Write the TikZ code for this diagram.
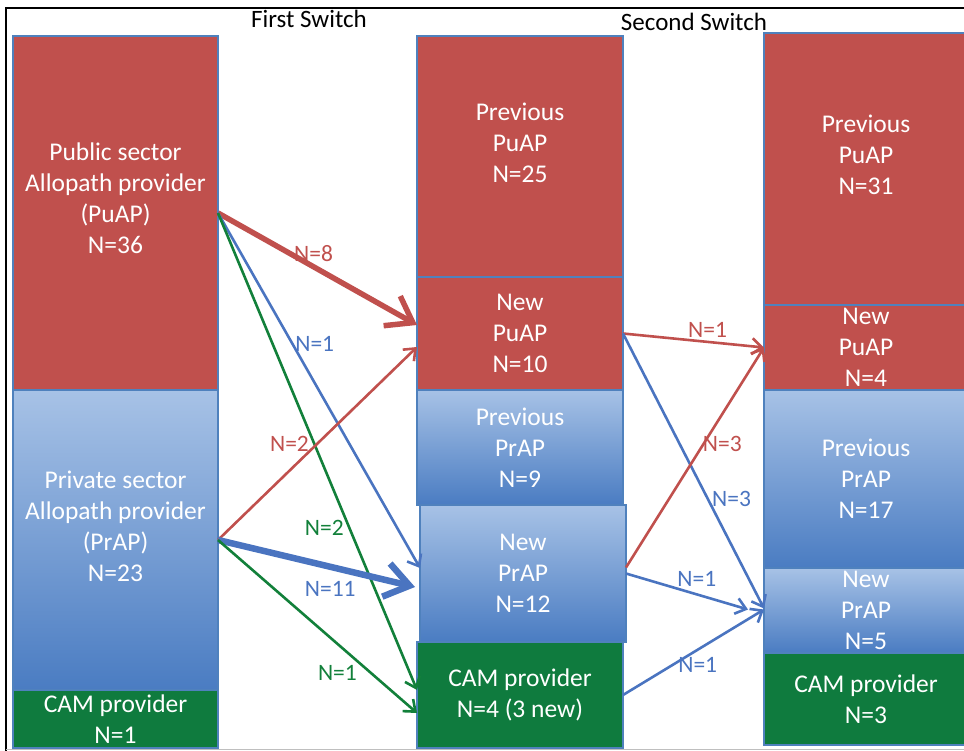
\documentclass[tikz,border=0pt]{standalone}
\usepackage{fontspec}
\setmainfont{Carlito}
\usetikzlibrary{positioning,calc,arrows.meta}

\definecolor{pured}{HTML}{C0504D}
\definecolor{prtop}{HTML}{A7C2E6}
\definecolor{prbot}{HTML}{4A7CC2}
\definecolor{camgreen}{HTML}{0F7B3E}
\definecolor{edgeblue}{HTML}{4F81BD}
\definecolor{arrblue}{HTML}{4A74C0}
\definecolor{arrgreen}{HTML}{12803A}

\begin{document}
\begin{tikzpicture}[x=1pt,y=-1pt]
\tikzstyle{boxtxt}=[text=white, align=center, inner sep=0pt, font=\fontsize{25.5}{31}\selectfont]
\tikzstyle{box}=[boxtxt, rectangle, draw=edgeblue, line width=1.5pt, outer sep=0pt]
\tikzstyle{pu}=[box, fill=pured]
\tikzstyle{pr}=[box, top color=prtop, bottom color=prbot]
\tikzstyle{cam}=[box, fill=camgreen]
\tikzstyle{colA}=[minimum width=205pt]
\tikzstyle{colB}=[minimum width=206pt]
\tikzstyle{colC}=[minimum width=204pt]
\tikzstyle{flow}=[line width=2.6pt, -{Straight Barb[length=10pt 0, width=16pt 0]}]
\tikzstyle{bigflow}=[line width=5.5pt, -{Straight Barb[length=24pt 0, width=34pt 0]}]
\tikzstyle{lbl}=[inner sep=0pt, font=\fontsize{23.5}{27}\selectfont]
\tikzstyle{hdr}=[inner sep=0pt, font=\fontsize{25}{30}\selectfont]
\useasboundingbox (0,0) rectangle (964,751);

  % frame
  \draw[line width=1.5pt] (5,8) -- (964,8);
  \draw[line width=1.2pt] (6,8) -- (6,751);
  \draw[black!25, line width=1pt] (6,749) -- (964,749);

  \node[hdr] (first) at (309,19) {First Switch};
  \node[hdr] (second) at (694,22) {Second Switch};

  % starting providers
  \node[pu, colA, minimum height=354pt, anchor=north west] (puap) at (13,36) {};
  \node[boxtxt] (puap-txt) at ([yshift=15pt]puap.center) {Public sector\\Allopath provider\\(PuAP)\\N=36};
  \node[pr, colA, minimum height=300pt, below=0pt of puap] (prap) {};
  \node[boxtxt] (prap-txt) at ([yshift=14pt]prap.center) {Private sector\\Allopath provider\\(PrAP)\\N=23};
  \node[cam, colA, minimum height=58pt, below=0pt of prap] (cam1) {CAM provider\\N=1};

  % after first switch
  \node[pu, colB, minimum height=241pt, anchor=north west] (prevpu2) at (417,36) {};
  \node[boxtxt] (prevpu2-txt) at ([yshift=14pt]prevpu2.center) {Previous\\PuAP\\N=25};
  \node[pu, colB, minimum height=113pt, below=0pt of prevpu2] (newpu2) {New\\PuAP\\N=10};
  \node[pr, colB, minimum height=115pt, below=0pt of newpu2] (prevpr2) {Previous\\PrAP\\N=9};
  \node[pr, colB, minimum height=137pt, below=0pt of prevpr2, xshift=3pt] (newpr2) {New\\PrAP\\N=12};
  \node[cam, colB, minimum height=106pt, below=0pt of newpr2, xshift=-3pt] (cam2) {CAM provider\\N=4 (3 new)};

  % after second switch
  \node[pu, colC, minimum height=272pt, anchor=north west] (prevpu3) at (764,33) {};
  \node[boxtxt] (prevpu3-txt) at ([yshift=14pt]prevpu3.center) {Previous\\PuAP\\N=31};
  \node[pu, colC, minimum height=85pt, below=0pt of prevpu3] (newpu3) {New\\PuAP\\N=4};
  \node[pr, colC, minimum height=178pt, below=0pt of newpu3] (prevpr3) {Previous\\PrAP\\N=17};
  \node[pr, colC, minimum height=85pt, below=0pt of prevpr3] (newpr3) {New\\PrAP\\N=5};
  \node[cam, colC, minimum height=92pt, below=0pt of newpr3] (cam3) {CAM provider\\N=3};

  % first switch
  \draw[bigflow, pured] (puap.east) -- ($(newpu2.west)+(0,-8.5)$) node[lbl, pos=.48, yshift=13pt] (pu-newpu) {N=8};
  \draw[flow, arrblue] (puap.east) -- ($(newpr2.west)+(0,-5.5)$) node[lbl, pos=.37, xshift=22pt] (pu-newpr) {N=1};
  \draw[flow, arrgreen] (puap.east) -- ($(cam2.west)+(0,-5)$) node[lbl, pos=.66, xshift=-25pt] (pu-cam) {N=2};
  \draw[flow, pured] (prap.east) -- ($(newpu2.west)+(0,13.5)$) node[lbl, pos=.5, xshift=-28pt] (pr-newpu) {N=2};
  \draw[bigflow, arrblue, line width=6.5pt] (prap.east) -- ($(newpr2.west)+(-5,13.5)$) node[lbl, pos=.57, yshift=-22pt] (pr-newpr) {N=11};
  \draw[flow, arrgreen] (prap.east) -- ($(cam2.west)+(0,18)$) node[lbl, pos=.6, yshift=-29pt] (pr-cam) {N=1};

  % second switch
  \draw[flow, pured] (newpu2.east) -- (newpu3.west) node[lbl, pos=.6, yshift=12pt] (npu-npu) {N=1};
  \draw[flow, arrblue] (newpu2.east) -- ($(newpr3.west)+(0,-2)$) node[lbl, pos=.6, xshift=24pt] (npu-npr) {N=3};
  \draw[flow, pured] ($(newpr2.east)+(0,-6)$) -- (newpu3.west) node[lbl, pos=.56, xshift=19pt] (npr-npu) {N=3};
  \draw[flow, arrblue] (newpr2.east) -- ($(newpr3.west)+(-16,-1)$) node[lbl, pos=.58, yshift=15pt] (npr-npr) {N=1};
  \draw[flow, arrblue] (cam2.east) -- ($(newpr3.west)+(0,-1)$) node[lbl, pos=.53, yshift=-15pt] (cam-npr) {N=1};
\end{tikzpicture}
\end{document}
